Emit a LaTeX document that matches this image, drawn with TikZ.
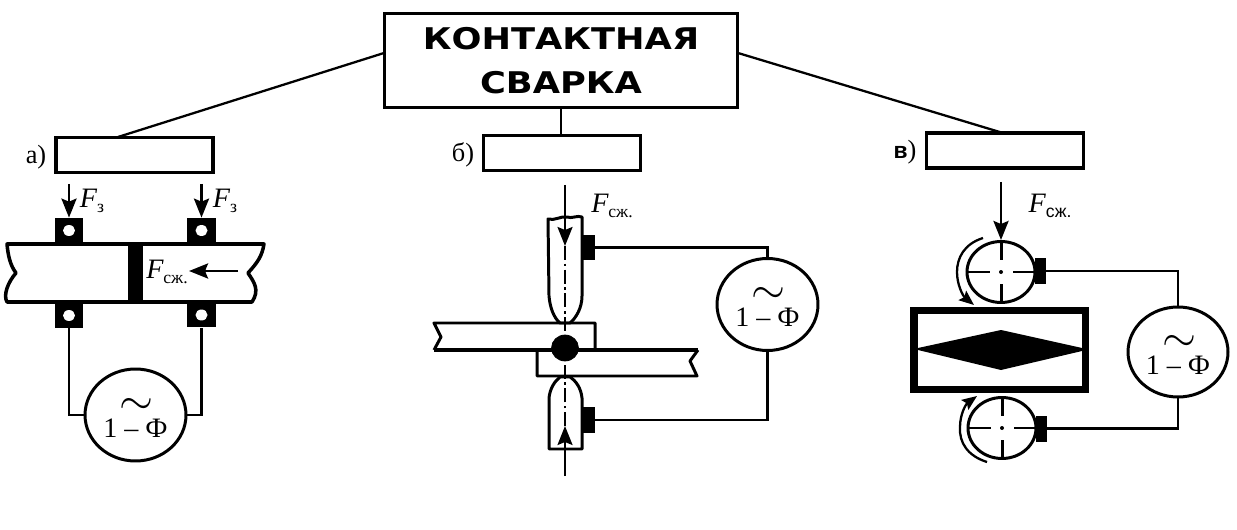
\documentclass[tikz,border=0pt]{standalone}
\usepackage{fontspec}
\setmainfont{Liberation Serif}
\setsansfont{Liberation Sans}
\newfontfamily\titlefont[FakeStretch=1.18]{DejaVu Sans}
\usetikzlibrary{calc,arrows.meta,shapes.geometric}
\tikzset{
	capbox/.style={draw, line width=2pt, inner sep=0pt, minimum width=3.14cm, minimum height=0.7cm},
	titlebox/.style={draw, line width=2pt, inner sep=0pt, minimum width=7.06cm, minimum height=1.88cm, align=center, font=\titlefont\bfseries\fontsize{17}{22}\selectfont},
	link/.style={line width=1.3pt},
	wire/.style={line width=1.6pt},
	thin axis/.style={line width=1pt, dash pattern=on 8pt off 2pt on 1.5pt off 2pt},
	force/.style={line width=1.6pt, -{Stealth[length=0.38cm, width=0.3cm, inset=0.06cm]}},
	turn/.style={line width=1.3pt, -{Stealth[length=0.3cm, width=0.24cm, inset=0.05cm]}},
	gen/.style={draw, ellipse, line width=1.7pt, inner sep=0pt, minimum width=2.02cm, minimum height=1.84cm},
	gentext/.style={inner sep=0pt, font=\fontsize{16}{16}\selectfont},
	clamp/.style={fill=black, inner sep=0pt, minimum width=0.58cm, minimum height=0.5cm},
	hole/.style={fill=white, ellipse, inner sep=0pt, minimum width=0.24cm, minimum height=0.22cm},
	block/.style={fill=black, inner sep=0pt, minimum width=0.26cm, minimum height=0.52cm},
	partlabel/.style={inner sep=0pt, font=\fontsize{15}{15}\selectfont},
	metal/.style={line width=1.7pt, line join=round},
	roller/.style={draw, ellipse, line width=1.7pt, inner sep=0pt, minimum width=1.36cm, minimum height=1.22cm},
}
\def\genlabel(#1){
	\node[gentext] (#1num) at ($(#1)+(0,13)$) {1 -- Ф};
	\node[gentext] (#1sim) at ($(#1)+(1,-9)$) {\fontsize{26}{26}\selectfont$\sim$};
}
\def\flabel#1{{\fontsize{16}{16}\selectfont\itshape F}\raisebox{-2.5pt}{\fontsize{10}{10}\selectfont #1}}
\begin{document}
\begin{tikzpicture}[x=0.02cm, y=-0.02cm]
		\useasboundingbox (0,0) rectangle (1237,530);
		
		%%%%% HEAD %%%%%
		\node[titlebox] (head) at (561,60.5) {КОНТАКТНАЯ\\[3pt]СВАРКА};
		\node[capbox] (boxa) at (134.5,155) {};
		\node[capbox] (boxb) at (562,153) {};
		\node[capbox] (boxc) at (1005,150.5) {};
		\node[partlabel] (laba) at (36,157) {а)};
		\node[partlabel] (labb) at (463,155) {б)};
		\node[partlabel] (labc) at (905,152) {{\sffamily\bfseries\fontsize{13}{13}\selectfont в})};
		\coordinate (headl) at (384,53);
		\coordinate (headr) at (738,53);
		\coordinate (boxaup) at (118,137);
		\coordinate (boxcup) at (1003,133);
		\draw[link] (headl) -- (boxaup);
		\draw[link] (head.south) -- (head.south |- boxb.north);
		\draw[link] (headr) -- (boxcup);
		
		%%%%% PART A %%%%%
		\draw[metal, line width=2pt] (7,244) -- (264,244) .. controls (262,256) and (258,262) .. (248,273) .. controls (254,282) and (260,290) .. (252,302) -- (7,302) .. controls (3,295) and (8,282) .. (16,273) .. controls (10,265) and (8,255) .. (7,244) -- cycle;
		\fill (128,243) rectangle (143,303);
		
		\node[clamp] (cla) at (69,230.5) {};
		\node[clamp] (clb) at (201.5,230.5) {};
		\node[clamp] (clc) at (69,315.5) {};
		\node[clamp] (cld) at (201.5,315) {};
		\node[hole] (hla) at (cla) {};
		\node[hole] (hlb) at (clb) {};
		\node[hole] (hlc) at (clc) {};
		\node[hole] (hld) at (cld) {};
		
		\coordinate (fa) at (69,184);
		\coordinate (fb) at (201.5,184);
		\draw[force] (fa) -- (cla.north);
		\draw[force] (fb) -- (clb.north);
		\node[inner sep=0pt] (fla) at (92,201) {\flabel{з}};
		\node[inner sep=0pt] (flb) at (225,201) {\flabel{з}};
		\node[inner sep=0pt] (flc) at (167,272) {\flabel{сж.}};
		\coordinate (fc) at (238,271);
		\coordinate (fd) at (189,271);
		\draw[force] (fc) -- (fd);
		
		\node[gen] (gena) at (135.5,415) {};
		\genlabel(gena)
		\draw[wire] (clc.south) |- (gena.west);
		\draw[wire] (cld.south) |- (gena.east);
		
		%%%%% PART B %%%%%
		\draw[metal] (549,296) -- (548,219) .. controls (555,221) and (560,216) .. (567,217) .. controls (572,219) and (577,215) .. (582,217) -- (582,296) .. controls (582,308) and (576,318) .. (570,323) -- (560,323) .. controls (554,318) and (550,308) .. (549,296) -- cycle;
		\draw[metal] (549,449) -- (549,398) .. controls (550,388) and (555,381) .. (560,377) -- (570,377) .. controls (576,381) and (581,388) .. (582,398) -- (582,449) -- cycle;
		
		\draw[metal] (595,350) -- (595,323) -- (434,323) -- (441,337) -- (434,350);
		\draw[metal] (537,350) -- (537,376) -- (697,376) -- (690,361) -- (698,350);
		\draw[line width=2.4pt] (434,350) -- (698,350);
		\node[draw, fill=black, ellipse, inner sep=0pt, minimum width=0.54cm, minimum height=0.52cm] (spot) at (565,348) {};
		
		\coordinate (fe) at (565,185);
		\coordinate (fetip) at (565,246);
		\coordinate (fg) at (565,476);
		\coordinate (fgtip) at (565,426);
		\draw[force, line width=1.2pt] (fe) -- (fetip);
		\draw[force, line width=1.2pt] (fg) -- (fgtip);
		\draw[thin axis] (fetip) -- (spot.north);
		\draw[thin axis] (fgtip) -- (spot.south);
		\node[inner sep=0pt] (fle) at (612,206) {\flabel{сж.}};
		
		\node[block] (bla) at (588.5,247.5) {};
		\node[block] (blb) at (588.5,420) {};
		\node[gen] (genb) at (767.5,304.5) {};
		\genlabel(genb)
		\draw[wire] (bla.east) -| (genb.north);
		\draw[wire] (blb.east) -| (genb.south);
		
		%%%%% PART C %%%%%
		\draw[line width=4.2pt] (914,310.5) rectangle (1085.5,389.5);
		\fill (918,348) -- (1001,330) -- (1082,348) -- (1082,351) -- (1001,370) -- (918,350) -- cycle;
		
		\node[roller] (rola) at (1001,272) {};
		\node[roller] (rolb) at (1002,428) {};
		\foreach \rol in {rola, rolb} {
			\draw[line width=1.7pt] (\rol.west) -- ++(24,0);
			\draw[line width=1.7pt] (\rol.east) -- ++(-24,0);
			\draw[line width=1.7pt] (\rol.south) -- ++(0,-20);
			\draw[line width=1.7pt] (\rol.north) -- ++(0,20);
			\fill (\rol) circle (2);
		}
		
		\coordinate (ff) at (1001,182);
		\draw[force] (ff) -- (rola.north);
		\node[inner sep=0pt] (flf) at (1050,206) {\flabel{\sffamily сж.}};
		
		\coordinate (ta) at (983,238);
		\coordinate (tb) at (974,305);
		\coordinate (tc) at (987,462);
		\coordinate (td) at (977,396);
		\draw[turn] (ta) .. controls (964,244) and (957,258) .. (957,272) .. controls (957,285) and (963,296) .. (tb);
		\draw[turn] (tc) .. controls (968,456) and (959,443) .. (960,427) .. controls (960,414) and (966,404) .. (td);
		
		\node[block, minimum width=0.22cm] (blc) at (1040,271) {};
		\node[block, minimum width=0.22cm] (bld) at (1041,428.5) {};
		\node[gen, minimum height=1.8cm, minimum width=2cm] (genc) at (1178,352) {};
		\genlabel(genc)
		\draw[wire] (blc.east) -| (genc.north);
		\draw[wire] (bld.east) -| (genc.south);
		
		%%%%% END %%%%%
	\end{tikzpicture}
\end{document}
